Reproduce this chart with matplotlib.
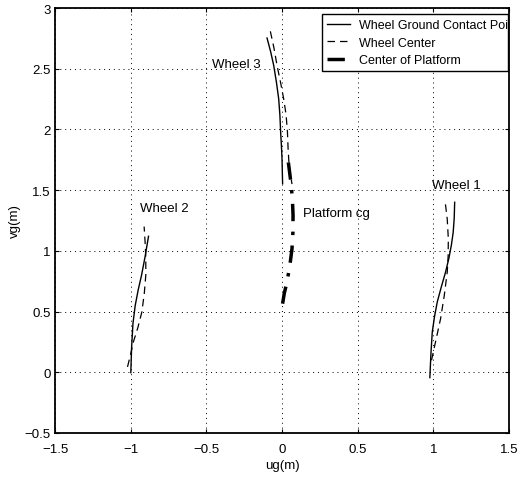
import matplotlib
matplotlib.use("Agg")
import matplotlib.pyplot as plt

plt.rcParams['font.family'] = ['Liberation Sans', 'DejaVu Sans']

# Wheel 1
w1_contact_x = [0.977, 0.984, 0.993, 1.008, 1.026, 1.052, 1.081, 1.103, 1.119, 1.131, 1.138, 1.141]
w1_contact_y = [-0.044, 0.15, 0.332, 0.46, 0.579, 0.70, 0.826, 0.94, 1.046, 1.15, 1.27, 1.40]
w1_center_x = [0.988, 1.018, 1.048, 1.072, 1.092, 1.098, 1.099, 1.092, 1.077]
w1_center_y = [0.099, 0.27, 0.442, 0.63, 0.826, 0.96, 1.10, 1.26, 1.416]
# Wheel 2
w2_contact_x = [-0.999, -0.994, -0.985, -0.970, -0.950, -0.928, -0.905, -0.882]
w2_contact_y = [-0.003, 0.20, 0.40, 0.55, 0.68, 0.80, 0.95, 1.12]
w2_center_x = [-1.021, -1.000, -0.982, -0.952, -0.926, -0.910, -0.900, -0.900, -0.905, -0.911]
w2_center_y = [0.044, 0.15, 0.25, 0.37, 0.497, 0.65, 0.80, 0.95, 1.08, 1.20]
# Wheel 3
w3_contact_x = [-0.099, -0.075, -0.055, -0.037, -0.022, -0.014, -0.009, -0.004, 0.000, 0.004]
w3_contact_y = [2.753, 2.64, 2.528, 2.39, 2.253, 2.12, 1.979, 1.87, 1.76, 1.553]
w3_center_x = [-0.077, -0.053, -0.033, -0.010, 0.011, 0.027, 0.036, 0.040, 0.046, 0.056, 0.066]
w3_center_y = [2.808, 2.67, 2.528, 2.39, 2.253, 2.12, 1.979, 1.85, 1.72, 1.63, 1.55]
# Platform
cg_x = [0.004, 0.015, 0.033, 0.052, 0.066, 0.072, 0.073, 0.069, 0.060, 0.047, 0.033]
cg_y = [0.565, 0.65, 0.744, 0.88, 1.018, 1.15, 1.293, 1.42, 1.55, 1.68, 1.814]

fig = plt.figure(figsize=(5.29, 4.81), dpi=100)
L, R, T, B = 55, 509, 9, 434
ax = fig.add_axes([L/529, 1-B/481, (R-L)/529, (B-T)/481])

ax.plot(w1_contact_x, w1_contact_y, 'k-', lw=1.0, label='Wheel Ground Contact Point')
ax.plot(w1_center_x, w1_center_y, 'k--', lw=0.9, dashes=(6, 4), label='Wheel Center')
ax.plot(cg_x, cg_y, 'k-.', lw=2.5, dashes=(5, 3, 1, 3), label='Center of Platform')
ax.plot(w2_contact_x, w2_contact_y, 'k-', lw=1.0)
ax.plot(w2_center_x, w2_center_y, 'k--', lw=0.9, dashes=(6, 4))
ax.plot(w3_contact_x, w3_contact_y, 'k-', lw=1.0)
ax.plot(w3_center_x, w3_center_y, 'k--', lw=0.9, dashes=(6, 4))

ax.text(-0.46, 2.54, 'Wheel 3', fontsize=9.5, va='center', ha='left')
ax.text(-0.94, 1.35, 'Wheel 2', fontsize=9.5, va='center', ha='left')
ax.text(0.99, 1.54, 'Wheel 1', fontsize=9.5, va='center', ha='left')
ax.text(0.14, 1.31, 'Platform cg', fontsize=9.5, va='center', ha='left')

ax.set_xlim(-1.5, 1.5)
ax.set_ylim(-0.5, 3)
ax.set_xticks([-1.5, -1, -0.5, 0, 0.5, 1, 1.5])
ax.set_xticklabels(['\u22121.5', '\u22121', '\u22120.5', '0', '0.5', '1', '1.5'])
ax.set_yticks([-0.5, 0, 0.5, 1, 1.5, 2, 2.5, 3])
ax.set_yticklabels(['\u22120.5', '0', '0.5', '1', '1.5', '2', '2.5', '3'])
ax.tick_params(direction='in', labelsize=9.5, length=3, top=True, right=True)
ax.tick_params(axis='x', pad=7)
ax.tick_params(axis='y', pad=3)
ax.grid(True, linestyle=(0, (1, 4)), color='k', lw=0.7)
ax.set_xlabel('ug(m)', fontsize=9.5)
ax.set_ylabel('vg(m)', fontsize=9.5)
ax.xaxis.set_label_coords(0.5, (B-460)/(B-T))
ax.yaxis.set_label_coords((21-L)/(R-L), 0.5)
for s in ax.spines.values():
    s.set_linewidth(1.3)

lx0 = (322-L)/(R-L)
lx1 = (508-L)/(R-L)
ly1 = (B-15)/(B-T)
ly0 = (B-69)/(B-T)
leg = ax.legend(loc='upper left', bbox_to_anchor=(lx0, ly0, lx1-lx0, ly1-ly0),
                mode='expand', fontsize=9, frameon=True, fancybox=False,
                edgecolor='k', borderpad=0.4, labelspacing=0.45, handlelength=1.8,
                handletextpad=0.75, borderaxespad=0.0, framealpha=1)
leg.get_frame().set_linewidth(1.0)
for t in leg.get_texts():
    t.set_clip_on(True)
    t.set_clip_box(ax.bbox)

fig.savefig('out.png', dpi=100)
